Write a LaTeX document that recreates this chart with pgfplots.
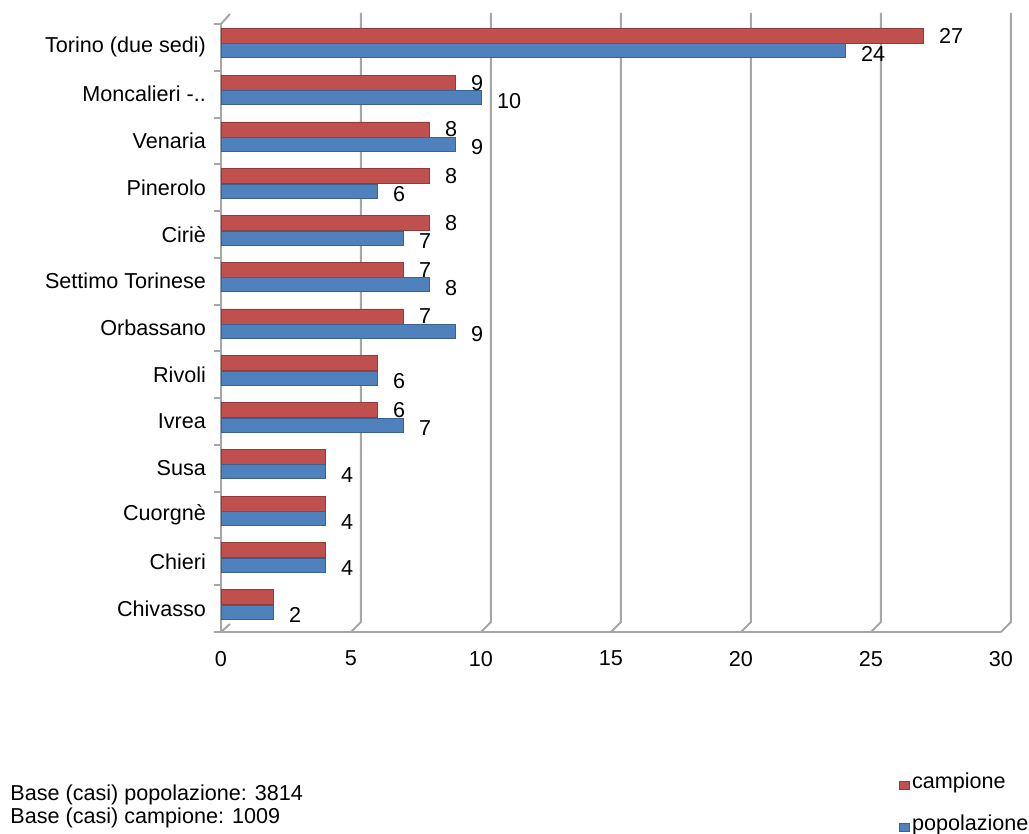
\documentclass[border=0pt]{standalone}
\usepackage{pgfplots}
\usepackage{pgfplotstable}
\pgfplotsset{compat=1.18}
\usepackage{fontspec}
\setmainfont{Liberation Sans}
\definecolor{camp}{HTML}{C0504D}
\definecolor{pop}{HTML}{4F81BD}
\definecolor{gridc}{HTML}{A6A6A6}

\pgfplotstableread{
y campione popolazione clab
12 27 24 27
11 9 10 9
10 8 9 8
9 8 6 8
8 8 7 8
7 7 8 7
6 7 9 7
5 6 6 {}
4 6 7 6
3 4 4 {}
2 4 4 {}
1 4 4 {}
0 2 2 {}
}\datatab

\begin{document}
\begin{tikzpicture}[font=\fontsize{10.8}{13}\selectfont]
\useasboundingbox (-110.5pt,-101pt) rectangle (404pt,316pt);
\begin{axis}[
  at={(0,0)}, anchor=south west,
  scale only axis, width=390pt, height=304pt,
  xmin=0, xmax=30, ymin=-0.5, ymax=12.5,
  xtick={0,5,...,30},
  ytick={0,...,12},
  yticklabels={Chivasso,Chieri,Cuorgnè,Susa,Ivrea,Rivoli,Orbassano,Settimo Torinese,Ciriè,Pinerolo,Venaria,Moncalieri -..,Torino (due sedi)},
  minor ytick={-0.5,0.5,...,12.5},
  axis x line*=bottom, axis y line*=left,
  axis line style={gridc, line width=1pt, -},
  major tick length=0pt, minor tick length=3.5pt, tick align=outside,
  minor tick style={gridc, line width=1pt},
  xticklabel style={yshift=-6pt},
  yticklabel style={xshift=-4pt},
  /pgf/number format/assume math mode=true,
  xbar, bar width=7.5pt,
  legend style={at={(rel axis cs:0.869,-0.228)}, anchor=north west, draw=none, fill=none,
    inner sep=0pt, row sep=9.5pt, nodes={inner sep=1pt, anchor=west}},
  legend cell align=left,
  legend image code/.code={\fill[#1] (0pt,-3.5pt) rectangle (5pt,0.5pt);},
  clip=false,
]
\pgfplotsinvokeforeach{5,10,15,20,25,30}{
  \draw[gridc, line width=1pt] (axis cs:#1,-0.5) -- ([xshift=5pt,yshift=5pt]axis cs:#1,-0.5)
    -- ([xshift=5pt,yshift=5.5pt]axis cs:#1,12.5);
}
\draw[gridc, line width=1pt] (axis cs:0,-0.5) -- ([xshift=4.5pt,yshift=4pt]axis cs:0,-0.5);
\draw[gridc, line width=1pt] (axis cs:0,12.5) -- ([xshift=4.5pt,yshift=5pt]axis cs:0,12.5);
\addplot[xbar, bar width=7.5pt, bar shift=5.75pt, fill=camp, draw=camp!75!black, line width=0.4pt,
  point meta=explicit symbolic, nodes near coords={\pgfplotspointmeta},
  every node near coord/.append style={anchor=west, xshift=4.5pt, yshift=0pt, text=black}]
  table[x=campione, y=y, meta=clab] {\datatab};
\addlegendentry{campione}
\addplot[xbar, bar width=7pt, bar shift=-1.75pt, fill=pop, draw=pop!75!black, line width=0.4pt,
  nodes near coords,
  every node near coord/.append style={anchor=west, xshift=4.5pt, yshift=-1.5pt, text=black}]
  table[x=popolazione, y=y] {\datatab};
\addlegendentry{popolazione}
\end{axis}
\node[anchor=north west, align=left, inner sep=0pt, font=\fontsize{10.8}{11.5}\selectfont]
  at (-105.5pt,-76pt) {Base (casi) popolazione: 3814\\Base (casi) campione: 1009};
\end{tikzpicture}
\end{document}
